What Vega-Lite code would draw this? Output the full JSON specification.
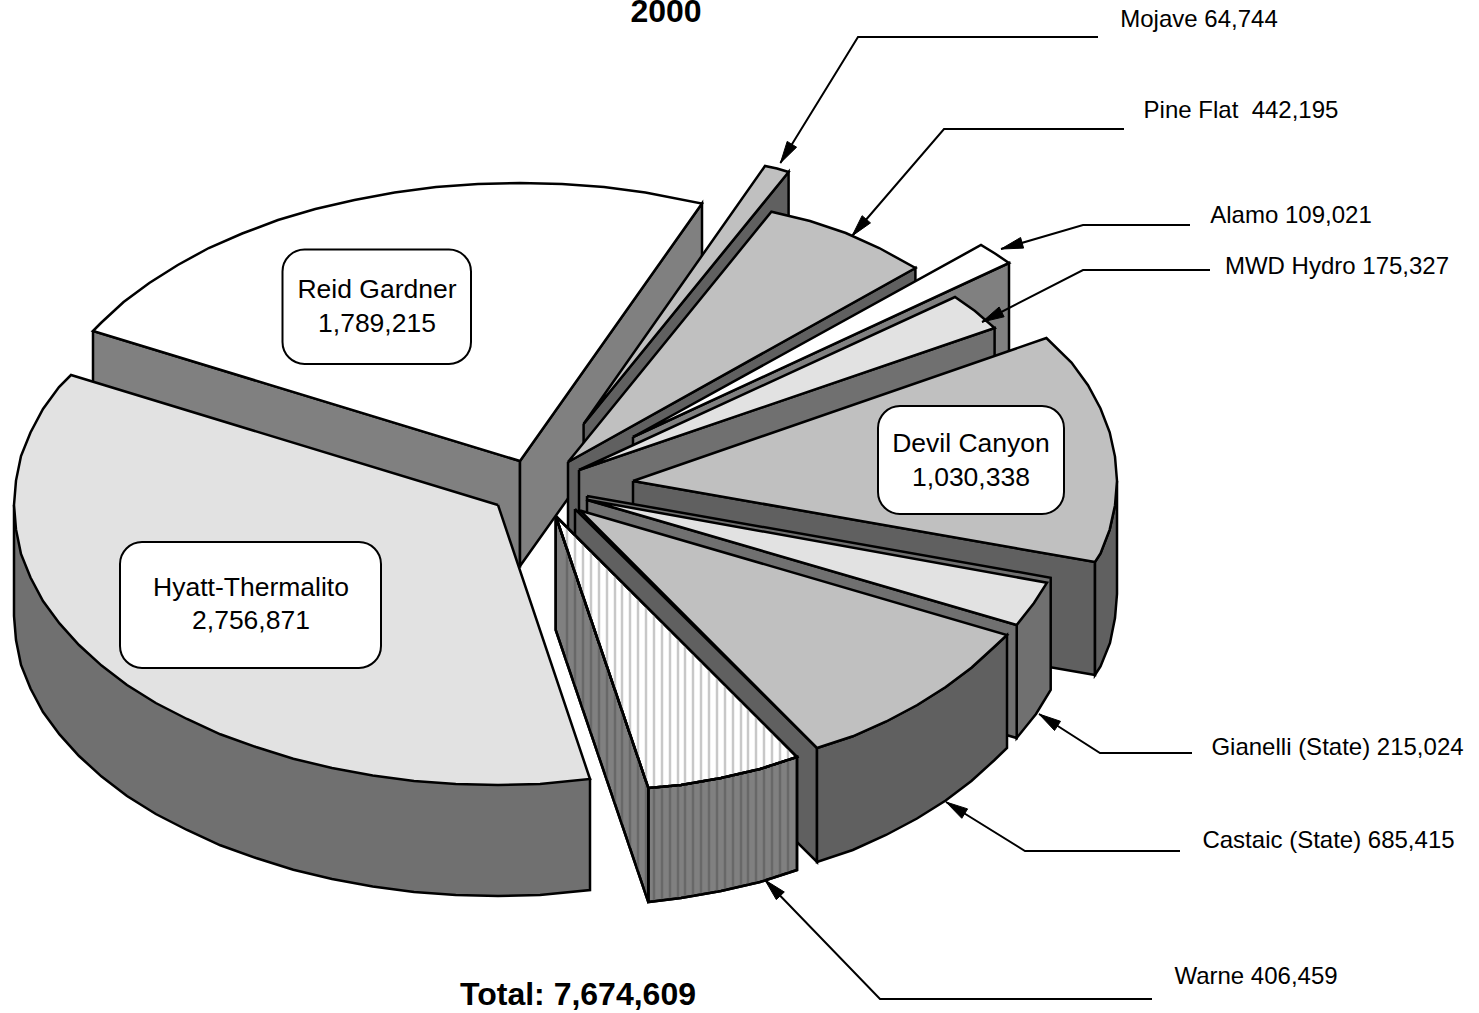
{"$schema":"https://vega.github.io/schema/vega-lite/v6.json","width":1479,"height":1013,"padding":0,"autosize":{"type":"none","contains":"padding"},"background":"white","view":{"stroke":null},
"config":{"font":"Liberation Sans"},
"datasets":{
"faces":[
{"poly":"Reid left wall","tone":"gray50","x":93,"y":331},{"poly":"Reid left wall","tone":"gray50","x":520,"y":461},{"poly":"Reid left wall","tone":"gray50","x":520,"y":566},{"poly":"Reid left wall","tone":"gray50","x":93,"y":438},{"poly":"Reid left wall","tone":"gray50","x":93,"y":331},
{"poly":"Reid right wall","tone":"gray50","x":520,"y":461},{"poly":"Reid right wall","tone":"gray50","x":702,"y":203.5},{"poly":"Reid right wall","tone":"gray50","x":702,"y":310},{"poly":"Reid right wall","tone":"gray50","x":520,"y":566},{"poly":"Reid right wall","tone":"gray50","x":520,"y":461},
{"poly":"Reid top","tone":"white","x":520,"y":461},{"poly":"Reid top","tone":"white","x":702,"y":203.5},{"poly":"Reid top","tone":"white","x":645.4,"y":192.5},{"poly":"Reid top","tone":"white","x":604,"y":187},{"poly":"Reid top","tone":"white","x":562,"y":184},{"poly":"Reid top","tone":"white","x":520,"y":183},{"poly":"Reid top","tone":"white","x":478,"y":184},{"poly":"Reid top","tone":"white","x":436,"y":187},{"poly":"Reid top","tone":"white","x":394.6,"y":192.5},{"poly":"Reid top","tone":"white","x":354.5,"y":200},{"poly":"Reid top","tone":"white","x":315.3,"y":209},{"poly":"Reid top","tone":"white","x":278,"y":220},{"poly":"Reid top","tone":"white","x":242.2,"y":233.5},{"poly":"Reid top","tone":"white","x":208.8,"y":248},{"poly":"Reid top","tone":"white","x":177.8,"y":265},{"poly":"Reid top","tone":"white","x":149.3,"y":283},{"poly":"Reid top","tone":"white","x":123.6,"y":302},{"poly":"Reid top","tone":"white","x":100.9,"y":323},{"poly":"Reid top","tone":"white","x":93,"y":331},{"poly":"Reid top","tone":"white","x":520,"y":461},
{"poly":"Mojave wall","tone":"gray38","x":583.6,"y":424},{"poly":"Mojave wall","tone":"gray38","x":788.6,"y":172},{"poly":"Mojave wall","tone":"gray38","x":788.6,"y":285},{"poly":"Mojave wall","tone":"gray38","x":583.6,"y":537},{"poly":"Mojave wall","tone":"gray38","x":583.6,"y":424},
{"poly":"Mojave top","tone":"silver","x":583.6,"y":424},{"poly":"Mojave top","tone":"silver","x":765,"y":166},{"poly":"Mojave top","tone":"silver","x":777,"y":168.5},{"poly":"Mojave top","tone":"silver","x":788.6,"y":172},{"poly":"Mojave top","tone":"silver","x":583.6,"y":424},
{"poly":"Pine wall","tone":"gray38","x":568,"y":462},{"poly":"Pine wall","tone":"gray38","x":915.4,"y":268},{"poly":"Pine wall","tone":"gray38","x":915.4,"y":381},{"poly":"Pine wall","tone":"gray38","x":568,"y":575},{"poly":"Pine wall","tone":"gray38","x":568,"y":462},
{"poly":"Pine top","tone":"silver","x":568,"y":462},{"poly":"Pine top","tone":"silver","x":771.4,"y":211.7},{"poly":"Pine top","tone":"silver","x":810,"y":221},{"poly":"Pine top","tone":"silver","x":845.8,"y":233},{"poly":"Pine top","tone":"silver","x":879.2,"y":248},{"poly":"Pine top","tone":"silver","x":915.4,"y":268},{"poly":"Pine top","tone":"silver","x":568,"y":462},
{"poly":"Alamo wall","tone":"gray50","x":633,"y":437},{"poly":"Alamo wall","tone":"gray50","x":1009,"y":263},{"poly":"Alamo wall","tone":"gray50","x":1009,"y":376},{"poly":"Alamo wall","tone":"gray50","x":633,"y":550},{"poly":"Alamo wall","tone":"gray50","x":633,"y":437},
{"poly":"Alamo top","tone":"white","x":633,"y":437},{"poly":"Alamo top","tone":"white","x":981,"y":245},{"poly":"Alamo top","tone":"white","x":995,"y":253.5},{"poly":"Alamo top","tone":"white","x":1009,"y":263},{"poly":"Alamo top","tone":"white","x":633,"y":437},
{"poly":"MWD wall","tone":"gray44","x":579,"y":470},{"poly":"MWD wall","tone":"gray44","x":994.6,"y":328},{"poly":"MWD wall","tone":"gray44","x":994.6,"y":441},{"poly":"MWD wall","tone":"gray44","x":579,"y":583},{"poly":"MWD wall","tone":"gray44","x":579,"y":470},
{"poly":"MWD top","tone":"light","x":579,"y":470},{"poly":"MWD top","tone":"light","x":955,"y":297},{"poly":"MWD top","tone":"light","x":975,"y":311},{"poly":"MWD top","tone":"light","x":994.6,"y":328},{"poly":"MWD top","tone":"light","x":579,"y":470},
{"poly":"Devil left wall","tone":"gray38","x":633,"y":481},{"poly":"Devil left wall","tone":"gray38","x":1095,"y":562},{"poly":"Devil left wall","tone":"gray38","x":1095,"y":675},{"poly":"Devil left wall","tone":"gray38","x":633,"y":594},{"poly":"Devil left wall","tone":"gray38","x":633,"y":481},
{"poly":"Devil outer wall","tone":"gray38","x":1095,"y":562},{"poly":"Devil outer wall","tone":"gray38","x":1100.5,"y":553.5},{"poly":"Devil outer wall","tone":"gray38","x":1109.7,"y":529.6},{"poly":"Devil outer wall","tone":"gray38","x":1115,"y":505.4},{"poly":"Devil outer wall","tone":"gray38","x":1117,"y":481},{"poly":"Devil outer wall","tone":"gray38","x":1117,"y":594},{"poly":"Devil outer wall","tone":"gray38","x":1115,"y":618},{"poly":"Devil outer wall","tone":"gray38","x":1110,"y":643},{"poly":"Devil outer wall","tone":"gray38","x":1100.5,"y":666.5},{"poly":"Devil outer wall","tone":"gray38","x":1095,"y":675},{"poly":"Devil outer wall","tone":"gray38","x":1095,"y":562},
{"poly":"Devil top","tone":"silver","x":633,"y":481},{"poly":"Devil top","tone":"silver","x":1046.4,"y":338},{"poly":"Devil top","tone":"silver","x":1071.5,"y":362.6},{"poly":"Devil top","tone":"silver","x":1088,"y":385.2},{"poly":"Devil top","tone":"silver","x":1100.5,"y":408.5},{"poly":"Devil top","tone":"silver","x":1109.7,"y":432.3},{"poly":"Devil top","tone":"silver","x":1115,"y":456.6},{"poly":"Devil top","tone":"silver","x":1117,"y":481},{"poly":"Devil top","tone":"silver","x":1115,"y":505.4},{"poly":"Devil top","tone":"silver","x":1109.7,"y":529.6},{"poly":"Devil top","tone":"silver","x":1100.5,"y":553.5},{"poly":"Devil top","tone":"silver","x":1095,"y":562},{"poly":"Devil top","tone":"silver","x":633,"y":481},
{"poly":"Gianelli far wall","tone":"gray44","x":587,"y":496},{"poly":"Gianelli far wall","tone":"gray44","x":1050.7,"y":577.7},{"poly":"Gianelli far wall","tone":"gray44","x":1050.7,"y":690},{"poly":"Gianelli far wall","tone":"gray44","x":1036,"y":714},{"poly":"Gianelli far wall","tone":"gray44","x":1016.7,"y":738},{"poly":"Gianelli far wall","tone":"gray44","x":1016.7,"y":625},{"poly":"Gianelli far wall","tone":"gray44","x":587,"y":500},{"poly":"Gianelli far wall","tone":"gray44","x":587,"y":496},
{"poly":"Gianelli near wall","tone":"gray44","x":587,"y":500},{"poly":"Gianelli near wall","tone":"gray44","x":1016.7,"y":625},{"poly":"Gianelli near wall","tone":"gray44","x":1016.7,"y":738},{"poly":"Gianelli near wall","tone":"gray44","x":587,"y":612},{"poly":"Gianelli near wall","tone":"gray44","x":587,"y":500},
{"poly":"Gianelli top","tone":"light","x":588,"y":500},{"poly":"Gianelli top","tone":"light","x":1047,"y":582.7},{"poly":"Gianelli top","tone":"light","x":1034,"y":603},{"poly":"Gianelli top","tone":"light","x":1016.7,"y":625},{"poly":"Gianelli top","tone":"light","x":588,"y":500},
{"poly":"Castaic left wall","tone":"gray38","x":575,"y":509},{"poly":"Castaic left wall","tone":"gray38","x":817,"y":748},{"poly":"Castaic left wall","tone":"gray38","x":817,"y":862},{"poly":"Castaic left wall","tone":"gray38","x":575,"y":622},{"poly":"Castaic left wall","tone":"gray38","x":575,"y":509},
{"poly":"Castaic outer wall","tone":"gray38","x":817,"y":748},{"poly":"Castaic outer wall","tone":"gray38","x":852.8,"y":736.3},{"poly":"Castaic outer wall","tone":"gray38","x":886.2,"y":721.5},{"poly":"Castaic outer wall","tone":"gray38","x":917.2,"y":705},{"poly":"Castaic outer wall","tone":"gray38","x":945.7,"y":687},{"poly":"Castaic outer wall","tone":"gray38","x":971.4,"y":667.7},{"poly":"Castaic outer wall","tone":"gray38","x":994.1,"y":647},{"poly":"Castaic outer wall","tone":"gray38","x":1007,"y":635},{"poly":"Castaic outer wall","tone":"gray38","x":1007,"y":748},{"poly":"Castaic outer wall","tone":"gray38","x":994,"y":760.5},{"poly":"Castaic outer wall","tone":"gray38","x":971.4,"y":781},{"poly":"Castaic outer wall","tone":"gray38","x":945.7,"y":800.5},{"poly":"Castaic outer wall","tone":"gray38","x":917,"y":818.5},{"poly":"Castaic outer wall","tone":"gray38","x":886,"y":835},{"poly":"Castaic outer wall","tone":"gray38","x":852.8,"y":850},{"poly":"Castaic outer wall","tone":"gray38","x":817,"y":862},{"poly":"Castaic outer wall","tone":"gray38","x":817,"y":748},
{"poly":"Castaic top","tone":"silver","x":580,"y":510.5},{"poly":"Castaic top","tone":"silver","x":817,"y":748},{"poly":"Castaic top","tone":"silver","x":852.8,"y":736.3},{"poly":"Castaic top","tone":"silver","x":886.2,"y":721.5},{"poly":"Castaic top","tone":"silver","x":917.2,"y":705},{"poly":"Castaic top","tone":"silver","x":945.7,"y":687},{"poly":"Castaic top","tone":"silver","x":971.4,"y":667.7},{"poly":"Castaic top","tone":"silver","x":994.1,"y":647},{"poly":"Castaic top","tone":"silver","x":1007,"y":635},{"poly":"Castaic top","tone":"silver","x":580,"y":510.5},
{"poly":"Hyatt wall","tone":"gray44","x":14,"y":505},{"poly":"Hyatt wall","tone":"gray44","x":14,"y":616},{"poly":"Hyatt wall","tone":"gray44","x":16,"y":640},{"poly":"Hyatt wall","tone":"gray44","x":21,"y":665},{"poly":"Hyatt wall","tone":"gray44","x":30.5,"y":688.5},{"poly":"Hyatt wall","tone":"gray44","x":43,"y":712},{"poly":"Hyatt wall","tone":"gray44","x":59.5,"y":734.4},{"poly":"Hyatt wall","tone":"gray44","x":79,"y":756},{"poly":"Hyatt wall","tone":"gray44","x":101.6,"y":776.6},{"poly":"Hyatt wall","tone":"gray44","x":127,"y":796},{"poly":"Hyatt wall","tone":"gray44","x":155.8,"y":814},{"poly":"Hyatt wall","tone":"gray44","x":187,"y":830},{"poly":"Hyatt wall","tone":"gray44","x":220.3,"y":845.3},{"poly":"Hyatt wall","tone":"gray44","x":256,"y":858},{"poly":"Hyatt wall","tone":"gray44","x":293.3,"y":869.7},{"poly":"Hyatt wall","tone":"gray44","x":332,"y":879},{"poly":"Hyatt wall","tone":"gray44","x":372.7,"y":886.5},{"poly":"Hyatt wall","tone":"gray44","x":414,"y":892},{"poly":"Hyatt wall","tone":"gray44","x":455.8,"y":894.9},{"poly":"Hyatt wall","tone":"gray44","x":498,"y":896},{"poly":"Hyatt wall","tone":"gray44","x":540,"y":895},{"poly":"Hyatt wall","tone":"gray44","x":590,"y":890},{"poly":"Hyatt wall","tone":"gray44","x":590,"y":779},{"poly":"Hyatt wall","tone":"gray44","x":14,"y":505},
{"poly":"Hyatt top","tone":"light","x":498,"y":505},{"poly":"Hyatt top","tone":"light","x":71,"y":375},{"poly":"Hyatt top","tone":"light","x":59,"y":387},{"poly":"Hyatt top","tone":"light","x":43,"y":409},{"poly":"Hyatt top","tone":"light","x":30.5,"y":432.5},{"poly":"Hyatt top","tone":"light","x":21,"y":456},{"poly":"Hyatt top","tone":"light","x":16,"y":480.6},{"poly":"Hyatt top","tone":"light","x":14,"y":505},{"poly":"Hyatt top","tone":"light","x":16,"y":529.4},{"poly":"Hyatt top","tone":"light","x":21,"y":554},{"poly":"Hyatt top","tone":"light","x":30.5,"y":577.5},{"poly":"Hyatt top","tone":"light","x":43,"y":601},{"poly":"Hyatt top","tone":"light","x":59.5,"y":623.4},{"poly":"Hyatt top","tone":"light","x":79,"y":645},{"poly":"Hyatt top","tone":"light","x":101.6,"y":665.6},{"poly":"Hyatt top","tone":"light","x":127,"y":685},{"poly":"Hyatt top","tone":"light","x":155.8,"y":703},{"poly":"Hyatt top","tone":"light","x":187,"y":719},{"poly":"Hyatt top","tone":"light","x":220.3,"y":734.3},{"poly":"Hyatt top","tone":"light","x":256,"y":747},{"poly":"Hyatt top","tone":"light","x":293.3,"y":758.7},{"poly":"Hyatt top","tone":"light","x":332,"y":768},{"poly":"Hyatt top","tone":"light","x":372.7,"y":775.5},{"poly":"Hyatt top","tone":"light","x":414,"y":781},{"poly":"Hyatt top","tone":"light","x":455.8,"y":783.9},{"poly":"Hyatt top","tone":"light","x":498,"y":785},{"poly":"Hyatt top","tone":"light","x":540,"y":784},{"poly":"Hyatt top","tone":"light","x":590,"y":779},{"poly":"Hyatt top","tone":"light","x":498,"y":505},
{"poly":"Warne left wall","tone":"gray50","x":555.7,"y":516},{"poly":"Warne left wall","tone":"gray50","x":648.3,"y":788},{"poly":"Warne left wall","tone":"gray50","x":648.3,"y":902},{"poly":"Warne left wall","tone":"gray50","x":555.7,"y":630},{"poly":"Warne left wall","tone":"gray50","x":555.7,"y":516},
{"poly":"Warne outer wall","tone":"gray50","x":648.3,"y":788},{"poly":"Warne outer wall","tone":"gray50","x":681,"y":785},{"poly":"Warne outer wall","tone":"gray50","x":721,"y":778},{"poly":"Warne outer wall","tone":"gray50","x":760,"y":769},{"poly":"Warne outer wall","tone":"gray50","x":797,"y":757},{"poly":"Warne outer wall","tone":"gray50","x":797,"y":870},{"poly":"Warne outer wall","tone":"gray50","x":760,"y":882},{"poly":"Warne outer wall","tone":"gray50","x":721,"y":891},{"poly":"Warne outer wall","tone":"gray50","x":681,"y":898},{"poly":"Warne outer wall","tone":"gray50","x":648.3,"y":902},{"poly":"Warne outer wall","tone":"gray50","x":648.3,"y":788},
{"poly":"Warne top","tone":"white","x":555.7,"y":516},{"poly":"Warne top","tone":"white","x":648.3,"y":788},{"poly":"Warne top","tone":"white","x":681,"y":785},{"poly":"Warne top","tone":"white","x":721,"y":778},{"poly":"Warne top","tone":"white","x":760,"y":769},{"poly":"Warne top","tone":"white","x":797,"y":757},{"poly":"Warne top","tone":"white","x":555.7,"y":516}
],
"heads":[
{"poly":"Mojave","x":780.4,"y":163},{"poly":"Mojave","x":796.6,"y":147.2},{"poly":"Mojave","x":787.2,"y":141.4},{"poly":"Mojave","x":780.4,"y":163},
{"poly":"Pine","x":852,"y":236},{"poly":"Pine","x":870.5,"y":222.9},{"poly":"Pine","x":862.1,"y":215.7},{"poly":"Pine","x":852,"y":236},
{"poly":"Alamo","x":1001,"y":249},{"poly":"Alamo","x":1023.6,"y":248.1},{"poly":"Alamo","x":1020.6,"y":237.5},{"poly":"Alamo","x":1001,"y":249},
{"poly":"MWD","x":982,"y":322},{"poly":"MWD","x":1004.1,"y":316.8},{"poly":"MWD","x":999.1,"y":307},{"poly":"MWD","x":982,"y":322},
{"poly":"Gianelli","x":1039,"y":714},{"poly":"Gianelli","x":1060.5,"y":721.3},{"poly":"Gianelli","x":1054.5,"y":730.5},{"poly":"Gianelli","x":1039,"y":714},
{"poly":"Castaic","x":946,"y":802},{"poly":"Castaic","x":967.6,"y":808.9},{"poly":"Castaic","x":961.8,"y":818.3},{"poly":"Castaic","x":946,"y":802},
{"poly":"Warne","x":765,"y":880},{"poly":"Warne","x":784.3,"y":892},{"poly":"Warne","x":776.3,"y":899.6},{"poly":"Warne","x":765,"y":880}
],
"leaders":[
{"poly":"Mojave","x":1098,"y":37},{"poly":"Mojave","x":858,"y":37},{"poly":"Mojave","x":780.4,"y":163},
{"poly":"Pine","x":1124,"y":129},{"poly":"Pine","x":944,"y":129},{"poly":"Pine","x":852,"y":236},
{"poly":"Alamo","x":1190,"y":225},{"poly":"Alamo","x":1083,"y":225},{"poly":"Alamo","x":1001,"y":249},
{"poly":"MWD","x":1210,"y":270},{"poly":"MWD","x":1083,"y":270},{"poly":"MWD","x":982,"y":322},
{"poly":"Gianelli","x":1192,"y":753},{"poly":"Gianelli","x":1100,"y":753},{"poly":"Gianelli","x":1039,"y":714},
{"poly":"Castaic","x":1180,"y":851},{"poly":"Castaic","x":1025,"y":851},{"poly":"Castaic","x":946,"y":802},
{"poly":"Warne","x":1152,"y":999},{"poly":"Warne","x":880,"y":999},{"poly":"Warne","x":765,"y":880}
],
"stripes":[
{"x":567,"upper":527,"rim":548,"base":662},{"x":575,"upper":535,"rim":572,"base":686},{"x":583,"upper":543,"rim":595,"base":709},{"x":591,"upper":551,"rim":619,"base":733},{"x":599,"upper":559,"rim":642,"base":756},{"x":607,"upper":567,"rim":666,"base":780},{"x":615,"upper":575,"rim":689,"base":803},{"x":622,"upper":582,"rim":710,"base":824},{"x":630,"upper":590,"rim":734,"base":848},{"x":638,"upper":598,"rim":757,"base":871},{"x":646,"upper":606,"rim":781,"base":895},{"x":654,"upper":614,"rim":787.5,"base":901},{"x":662,"upper":622,"rim":787,"base":900},{"x":670,"upper":630,"rim":786,"base":899},{"x":678,"upper":638,"rim":785.5,"base":898},{"x":685,"upper":645,"rim":784.5,"base":897},{"x":693,"upper":653,"rim":783,"base":896},{"x":701,"upper":661,"rim":781.5,"base":895},{"x":709,"upper":669,"rim":780,"base":893},{"x":717,"upper":677,"rim":779,"base":892},{"x":725,"upper":685,"rim":777,"base":890},{"x":733,"upper":693,"rim":775.5,"base":888},{"x":741,"upper":701,"rim":773.5,"base":886},{"x":748,"upper":708,"rim":772,"base":885},{"x":756,"upper":716,"rim":770,"base":883},{"x":764,"upper":724,"rim":768,"base":881},{"x":772,"upper":732,"rim":765,"base":878},{"x":780,"upper":740,"rim":762,"base":875},{"x":788,"upper":748,"rim":760,"base":873}
],
"boxes":[
{"plant":"Reid Gardner","x":282.5,"x2":471,"y":249.5,"y2":364},
{"plant":"Hyatt-Thermalito","x":120,"x2":381,"y":542,"y2":668},
{"plant":"Devil Canyon","x":878,"x2":1064,"y":406,"y2":514}
],
"boxText":[
{"text":"Reid Gardner","x":377,"y":290},{"text":"1,789,215","x":377,"y":324},
{"text":"Hyatt-Thermalito","x":251,"y":588},{"text":"2,756,871","x":251,"y":621},
{"text":"Devil Canyon","x":971,"y":444},{"text":"1,030,338","x":971,"y":478}
],
"callouts":[
{"text":"Mojave 64,744","x":1199,"y":20},{"text":"Pine Flat \u00a0442,195","x":1241,"y":111},{"text":"Alamo 109,021","x":1291,"y":216},{"text":"MWD Hydro 175,327","x":1337,"y":267},{"text":"Gianelli (State) 215,024","x":1337.5,"y":748},{"text":"Castaic (State) 685,415","x":1328.5,"y":841},{"text":"Warne 406,459","x":1256,"y":977}
],
"headings":[
{"text":"2000","x":666,"y":12},{"text":"Total: 7,674,609","x":578,"y":995}
]
},
"encoding":{
"x":{"field":"x","type":"quantitative","scale":{"domain":[0,1479],"nice":false,"zero":false},"axis":null},
"y":{"field":"y","type":"quantitative","scale":{"domain":[1013,0],"nice":false,"zero":false},"axis":null}
},
"layer":[
{"data":{"name":"faces"},"mark":{"type":"line","stroke":"black","strokeWidth":2.5,"strokeJoin":"miter"},
"encoding":{"detail":{"field":"poly"},"order":{"value":null},"fill":{"field":"tone","type":"nominal","legend":null,"scale":{"domain":["white","light","silver","gray50","gray44","gray38"],"range":["#ffffff","#e2e2e2","#c0c0c0","#808080","#707070","#606060"]}}}},
{"data":{"name":"stripes"},"mark":{"type":"rule","stroke":"#c8c8c8","strokeWidth":2.5},"encoding":{"y":{"field":"upper","type":"quantitative"},"y2":{"field":"rim"}}},
{"data":{"name":"stripes"},"mark":{"type":"rule","stroke":"#686868","strokeWidth":2.5},"encoding":{"y":{"field":"rim","type":"quantitative"},"y2":{"field":"base"}}},
{"data":{"name":"faces"},"transform":[{"filter":"indexof(datum.poly,'Warne')==0"}],"mark":{"type":"line","stroke":"black","strokeWidth":2.5,"strokeJoin":"miter","fill":null},"encoding":{"detail":{"field":"poly"},"order":{"value":null}}},
{"data":{"name":"leaders"},"mark":{"type":"line","stroke":"black","strokeWidth":2,"strokeJoin":"miter"},"encoding":{"detail":{"field":"poly"},"order":{"value":null}}},
{"data":{"name":"heads"},"mark":{"type":"line","stroke":"black","strokeWidth":1,"fill":"black"},"encoding":{"detail":{"field":"poly"},"order":{"value":null}}},
{"data":{"name":"boxes"},"mark":{"type":"rect","fill":"white","stroke":"black","strokeWidth":2,"cornerRadius":22},"encoding":{"x2":{"field":"x2"},"y2":{"field":"y2"}}},
{"data":{"name":"boxText"},"mark":{"type":"text","fontSize":26.5,"align":"center","baseline":"middle","font":"Liberation Sans","color":"black"},"encoding":{"text":{"field":"text"}}},
{"data":{"name":"callouts"},"mark":{"type":"text","fontSize":24,"align":"center","baseline":"middle","font":"Liberation Sans","color":"black"},"encoding":{"text":{"field":"text"}}},
{"data":{"name":"headings"},"mark":{"type":"text","fontSize":32,"fontWeight":"bold","align":"center","baseline":"middle","font":"Liberation Sans","color":"black"},"encoding":{"text":{"field":"text"}}}
]}
